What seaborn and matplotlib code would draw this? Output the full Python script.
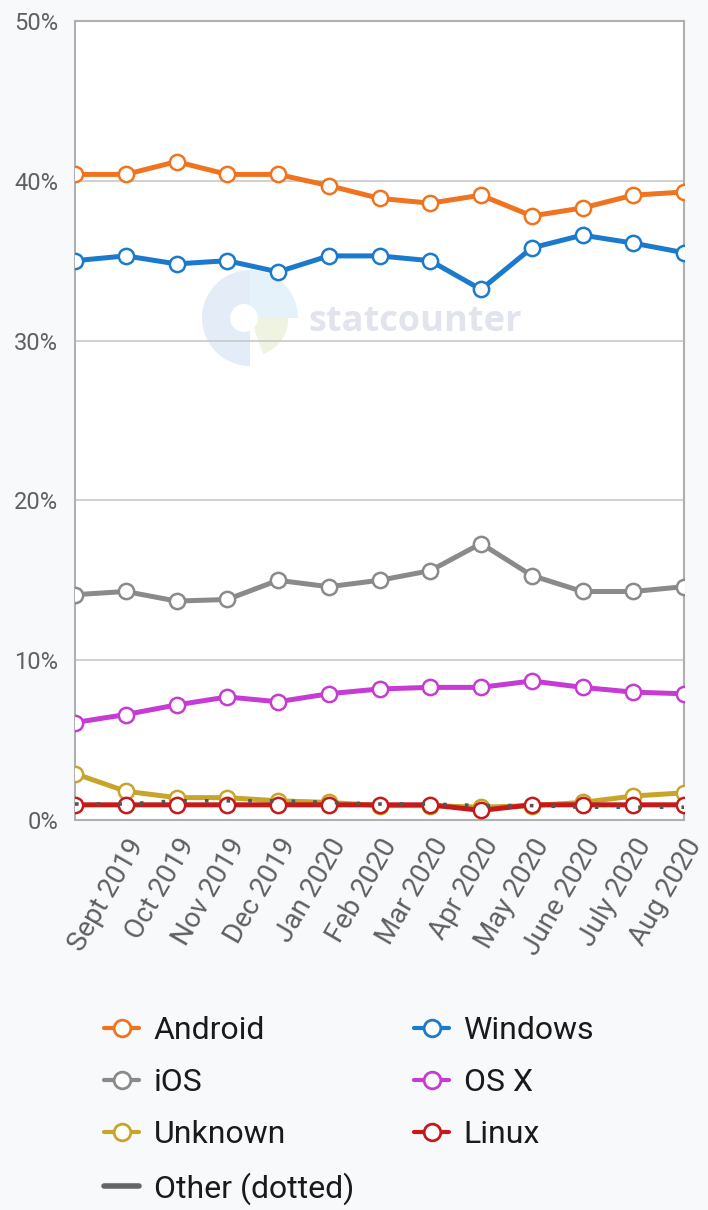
import numpy as np
import pandas as pd
import matplotlib
matplotlib.use('Agg')
import matplotlib.pyplot as plt
import matplotlib.transforms as mtransforms
import seaborn as sns
from matplotlib.lines import Line2D
from matplotlib.patches import Wedge, Circle

# Data (persen)
months = ['Sept 2019', 'Oct 2019', 'Nov 2019', 'Dec 2019', 'Jan 2020', 'Feb 2020',
          'Mar 2020', 'Apr 2020', 'May 2020', 'June 2020', 'July 2020', 'Aug 2020']
android = [40.4, 40.4, 41.2, 40.4, 40.4, 39.7, 38.9, 38.6, 39.1, 37.8, 38.3, 39.1, 39.3]
windows = [35.0, 35.3, 34.8, 35.0, 34.3, 35.3, 35.3, 35.0, 33.2, 35.8, 36.6, 36.1, 35.5]
ios = [14.1, 14.3, 13.7, 13.8, 15.0, 14.6, 15.0, 15.6, 17.3, 15.3, 14.3, 14.3, 14.6]
osx = [6.1, 6.6, 7.2, 7.7, 7.4, 7.9, 8.2, 8.3, 8.3, 8.7, 8.3, 8.0, 7.9]
unknown = [2.9, 1.8, 1.4, 1.4, 1.2, 1.1, 0.9, 0.9, 0.8, 0.9, 1.1, 1.5, 1.7]
linux = [0.95, 0.95, 0.95, 0.95, 0.95, 0.95, 0.95, 0.95, 0.6, 0.95, 0.95, 0.95, 0.95]
other = [1.0, 1.0, 1.2, 1.2, 1.2, 1.1, 1.0, 1.0, 0.9, 0.9, 0.8, 0.8, 0.8]

x_idx = list(range(len(android)))

series = {
    'Android': (android, '#F07420'),
    'Windows': (windows, '#1B7ACB'),
    'iOS': (ios, '#8A8A8A'),
    'OS X': (osx, '#C53BD3'),
    'Unknown': (unknown, '#C7A52A'),
    'Linux': (linux, '#C41A1A'),
}

sns.set_style('white')
plt.rcParams['font.family'] = ['Roboto', 'DejaVu Sans']

W, H = 708, 1210
fig = plt.figure(figsize=(W / 100, H / 100), dpi=100, facecolor='#f8f9fb')
ax = fig.add_axes([75 / W, 1 - 820 / H, (684 - 75) / W, (820 - 21) / H])
ax.set_facecolor('white')

# watermark statcounter (koordinat piksel)
idt = mtransforms.IdentityTransform()
cx, cy, r = 250, H - 318, 48
ax.add_patch(Wedge((cx, cy), r, 90, 270, facecolor='#e4edf7', edgecolor='none', transform=idt, zorder=0.3))
ax.add_patch(Wedge((cx, cy), r, 0, 90, facecolor='#e6f2fa', edgecolor='none', transform=idt, zorder=0.3))
ax.add_patch(Wedge((cx, cy), r * 0.8, 290, 360, facecolor='#eff4e2', edgecolor='none', transform=idt, zorder=0.3))
ax.add_patch(Circle((cx - 6, cy), 14, facecolor='white', edgecolor='none', transform=idt, zorder=0.35))
fig.text(308 / W, 1 - 322 / H, 'statcounter', fontsize=26, fontweight='bold', color='#e1e4ec',
         family=['Open Sans', 'DejaVu Sans'], ha='left', va='center', zorder=0.5)

for name, (vals, col) in series.items():
    df = pd.DataFrame({'x': x_idx, 'y': vals})
    sns.lineplot(data=df, x='x', y='y', ax=ax, color=col, linewidth=3.6,
                 marker='o', markersize=11, markerfacecolor='white',
                 markeredgecolor=col, markeredgewidth=1.8, zorder=3)

df_o = pd.DataFrame({'x': x_idx, 'y': other})
sns.lineplot(data=df_o, x='x', y='y', ax=ax, color='#555555', linewidth=2.6,
             linestyle=(0, (1, 5)), zorder=4)

ax.set_xlim(0, len(android) - 1)
ax.set_ylim(0, 50)
ax.set_yticks([0, 10, 20, 30, 40, 50])
ax.set_yticklabels(['0%', '10%', '20%', '30%', '40%', '50%'], fontsize=17, color='#606060')
ax.set_xticks(x_idx[1:])
ax.set_xticklabels(months, rotation=60, ha='right', rotation_mode='anchor',
                   fontsize=20, color='#606060')
shift = mtransforms.ScaledTranslation(-5 / 100, 0, fig.dpi_scale_trans)
for lbl in ax.get_xticklabels():
    lbl.set_transform(lbl.get_transform() + shift)
ax.tick_params(axis='y', length=0, pad=12)
ax.tick_params(axis='x', length=0, pad=10)
ax.grid(axis='y', color='#c8c8c8', linewidth=1.2)
ax.set_axisbelow(True)
for sp in ax.spines.values():
    sp.set_color('#b0b0b0')
    sp.set_linewidth(1.5)
    sp.set_visible(True)
ax.set_xlabel('')
ax.set_ylabel('')


def marker_handle(col):
    return Line2D([], [], color=col, linewidth=3, marker='o', markersize=12,
                  markerfacecolor='white', markeredgecolor=col, markeredgewidth=2)


# Legend kiri dan kanan
left_names = ['Android', 'iOS', 'Unknown']
h1 = [marker_handle(series[n][1]) for n in left_names] + [Line2D([], [], color='#666666', linewidth=4)]
l1 = left_names + ['Other (dotted)']
right_names = ['Windows', 'OS X', 'Linux']
h2 = [marker_handle(series[n][1]) for n in right_names]

leg_kw = dict(frameon=False, fontsize=23, handlelength=1.1, handletextpad=0.45,
              labelspacing=0.72, borderpad=0, borderaxespad=0, labelcolor='#1a1a1a')
fig.legend(h1, l1, loc='upper left', bbox_to_anchor=(104 / W, 1 - 1016 / H), **leg_kw)
fig.legend(h2, right_names, loc='upper left', bbox_to_anchor=(414 / W, 1 - 1016 / H), **leg_kw)

fig.savefig('out.png', dpi=100, facecolor=fig.get_facecolor())
